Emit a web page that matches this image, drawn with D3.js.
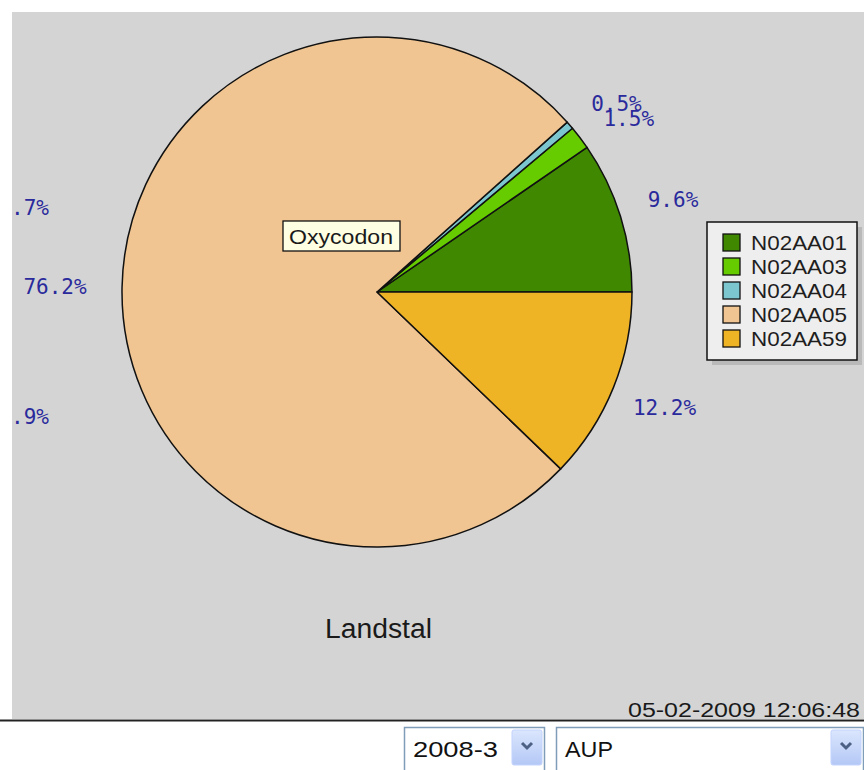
<!DOCTYPE html>
<html>
    <head>
        <style>
            body { margin: 0; background: #fff; }
            .pct { font: 21px "DejaVu Sans Mono", monospace; fill: #2a2a9c; text-anchor: middle; }
            .leg text { font: 21px "Liberation Sans", Arial, sans-serif; fill: #1e1e1e; }
            .ui text { font: 22px "Liberation Sans", Arial, sans-serif; fill: #111; }
        </style>
        <script src="https://d3js.org/d3.v7.min.js"></script>
    </head>
    <body>
        <svg width="864" height="770"></svg>
        <script>
            // chart data
            var codes = ["N02AA01", "N02AA03", "N02AA04", "N02AA05", "N02AA59"];
            var shares = [9.6, 1.5, 0.5, 76.2, 12.2];
            var colors = ["#3f8800", "#66cc00", "#7cc6d0", "#f0c591", "#efb326"];
            var cutLabels = [".7%", ".9%"];
            var title = "Landstal";
            var tip = "Oxycodon";
            var stamp = "05-02-2009 12:06:48";
            var periods = ["2008-3"];
            var units = ["AUP"];

            var svg = d3.select("svg"),
                width = +svg.attr("width"),
                height = +svg.attr("height");

            var panel = {x: 12, y: 12, w: width - 12, h: 707};

            svg.append("defs").append("clipPath").attr("id", "pclip")
               .append("rect").attr("x", panel.x).attr("y", panel.y)
               .attr("width", panel.w).attr("height", panel.h);

            svg.append("rect")
               .attr("x", panel.x).attr("y", panel.y)
               .attr("width", panel.w).attr("height", panel.h)
               .attr("fill", "#d4d4d4");

            var chart = svg.append("g").attr("clip-path", "url(#pclip)");

            var cx = 377, cy = 292, radius = 255;

            var g = chart.append("g")
                       .attr("transform", "translate(" + cx + "," + cy + ")");

            var pie = d3.pie().sort(null)
                        .startAngle(Math.PI / 2)
                        .endAngle(Math.PI / 2 - 2 * Math.PI);

            var arc = d3.arc().innerRadius(0).outerRadius(radius);
            var labelArc = d3.arc().innerRadius(310).outerRadius(310);

            var arcs = pie(shares);

            g.selectAll("path.slice")
             .data(arcs)
             .enter().append("path")
             .attr("class", "slice")
             .attr("d", arc)
             .attr("fill", function(d, i) { return colors[i]; })
             .attr("stroke", "#111")
             .attr("stroke-width", 1.5)
             .attr("stroke-linejoin", "round");

            // small slices get pushed down a bit so they stay readable
            g.selectAll("text.pct")
             .data(arcs)
             .enter().append("text")
             .attr("class", "pct")
             .attr("transform", function(d) {
                 var c = labelArc.centroid(d);
                 var push = d.data < 2 ? 14 : 0;
                 if (d.data < 2) c[0] += 5;
                 if (c[0] < -200) c[0] -= 12;
                 return "translate(" + c[0] + "," + (c[1] + push) + ")";
             })
             .attr("dy", "0.35em")
             .text(function(d) { return d3.format(".1f")(d.data) + "%"; });

            // labels of a neighbouring pie, cut off by the panel edge
            chart.selectAll("text.cut")
                 .data(cutLabels)
                 .enter().append("text")
                 .attr("class", "pct")
                 .attr("x", 11)
                 .attr("y", function(d, i) { return i === 0 ? 208 : 417; })
                 .attr("dy", "0.35em")
                 .style("text-anchor", "start")
                 .text(function(d) { return d; });

            // tooltip
            var tipG = chart.append("g").attr("transform", "translate(283,221)");
            tipG.append("rect").attr("width", 117).attr("height", 30)
                .attr("fill", "#fefee2").attr("stroke", "#111").attr("stroke-width", 1.3);
            tipG.append("text").attr("x", 6).attr("y", 23)
                .attr("textLength", 104).attr("lengthAdjust", "spacingAndGlyphs")
                .style("font", "21px 'Liberation Sans', Arial, sans-serif")
                .attr("fill", "#1a1a1a").text(tip);

            // legend
            var leg = chart.append("g").attr("class", "leg")
                           .attr("transform", "translate(707,222)");
            leg.append("rect").attr("x", 5).attr("y", 5).attr("width", 150).attr("height", 138)
               .attr("fill", "#b9b9b9");
            leg.append("rect").attr("width", 150).attr("height", 138)
               .attr("fill", "#eeeeee").attr("stroke", "#111").attr("stroke-width", 1.5);

            var rowY = d3.scaleBand().domain(codes).range([9, 129]);

            var rows = leg.selectAll("g.row")
                          .data(codes)
                          .enter().append("g")
                          .attr("class", "row")
                          .attr("transform", function(d) { return "translate(0," + rowY(d) + ")"; });
            rows.append("rect")
                .attr("x", 16).attr("y", 3).attr("width", 17).attr("height", 17)
                .attr("fill", function(d, i) { return colors[i]; })
                .attr("stroke", "#111").attr("stroke-width", 1.3);
            rows.append("text")
                .attr("x", 44).attr("y", 19)
                .attr("textLength", 96).attr("lengthAdjust", "spacingAndGlyphs")
                .text(function(d) { return d; });

            chart.append("text")
                 .attr("x", 325).attr("y", 638)
                 .attr("textLength", 107).attr("lengthAdjust", "spacingAndGlyphs")
                 .style("font", "27px 'Liberation Sans', Arial, sans-serif")
                 .attr("fill", "#1a1a1a")
                 .text(title);

            chart.append("text")
                 .attr("x", 628).attr("y", 717)
                 .attr("textLength", 232).attr("lengthAdjust", "spacingAndGlyphs")
                 .style("font", "20px 'Liberation Sans', Arial, sans-serif")
                 .attr("fill", "#1a1a1a")
                 .text(stamp);

            svg.append("line")
               .attr("x1", 0).attr("x2", width).attr("y1", 720.5).attr("y2", 720.5)
               .attr("stroke", "#222").attr("stroke-width", 2);

            // drop-down controls
            var grad = svg.select("defs").append("linearGradient")
                          .attr("id", "btn").attr("x1", 0).attr("x2", 0).attr("y1", 0).attr("y2", 1);
            grad.append("stop").attr("offset", 0).attr("stop-color", "#dbe6fd");
            grad.append("stop").attr("offset", 1).attr("stop-color", "#b4c8f6");

            var boxes = [
                {x: 404, w: 141, label: periods[0], len: 85},
                {x: 556, w: 308, label: units[0], len: 48}
            ];
            var ui = svg.append("g").attr("class", "ui");
            var box = ui.selectAll("g.box").data(boxes).enter().append("g")
                        .attr("class", "box")
                        .attr("transform", function(d) { return "translate(" + d.x + ",727)"; });
            box.append("rect").attr("x", 0.5).attr("y", 0.5)
               .attr("width", function(d) { return d.w - 1; }).attr("height", 50)
               .attr("fill", "#fff").attr("stroke", "#7f9db9").attr("stroke-width", 1.5);
            box.append("text").attr("x", 9).attr("y", 30)
               .attr("textLength", function(d) { return d.len; })
               .attr("lengthAdjust", "spacingAndGlyphs")
               .text(function(d) { return d.label; });
            box.append("rect")
               .attr("x", function(d) { return d.w - 33; }).attr("y", 3)
               .attr("width", 30).attr("height", 35).attr("rx", 2)
               .attr("fill", "url(#btn)").attr("stroke", "#c3d3fd");
            box.append("path")
               .attr("d", function(d) {
                   var x = d.w - 18, y = 19;
                   return "M" + (x - 5) + "," + (y - 3) + "L" + x + "," + (y + 2) + "L" + (x + 5) + "," + (y - 3);
               })
               .attr("fill", "none").attr("stroke", "#4d6185").attr("stroke-width", 3);
        </script>
    </body>
</html>
